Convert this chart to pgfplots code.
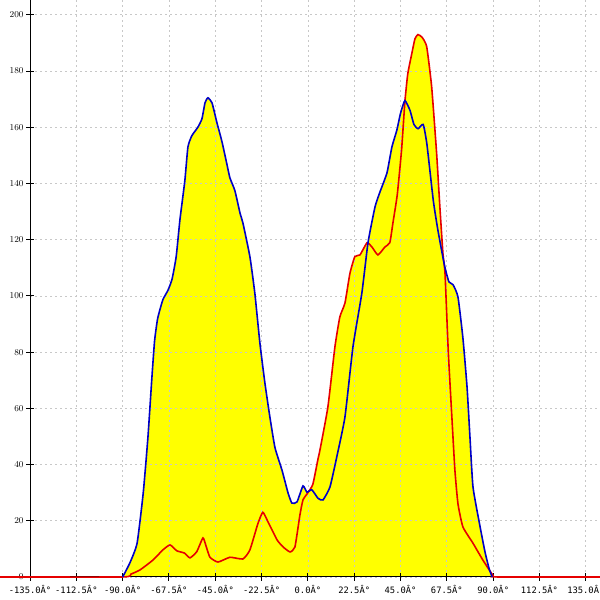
\documentclass[border=0pt]{standalone}
\usepackage{pgfplots}
\pgfplotsset{compat=1.18}
\usepackage{fontspec}
\setmainfont{DejaVu Sans}
\newfontfamily\tickfont{DejaVu Sans Mono}
\definecolor{gridgray}{RGB}{200,200,200}
\definecolor{myblue}{RGB}{0,0,200}
\definecolor{myred}{RGB}{230,0,0}
\definecolor{myyellow}{RGB}{255,255,0}
\begin{document}
\begin{tikzpicture}
\begin{axis}[
  set layers=standard,
  scale only axis, width=570pt, height=577pt,
  xmin=-135, xmax=141.9, ymin=0, ymax=205.3,
  axis lines=left, axis line style={-, black, line width=1pt},
  clip=false,
  xtick={-135,-112.5,...,135},
  xticklabels={-135.0Â°,-112.5Â°,-90.0Â°,-67.5Â°,-45.0Â°,-22.5Â°,0.0Â°,22.5Â°,45.0Â°,67.5Â°,90.0Â°,112.5Â°,135.0Â°},
  ytick={0,20,...,200},
  tick align=center, major tick length=8pt,
  tick style={black, line width=1pt},
  grid=major, major grid style={gridgray, dash pattern=on 2pt off 3pt, line width=0.8pt},
  ticklabel style={font=\tickfont\fontsize{8.8}{10}\selectfont},
  xticklabel style={yshift=-1pt},
  yticklabel style={xshift=1pt},
]
\coordinate (bl) at (axis cs:-149.6,0);
\coordinate (tr) at (axis cs:141.9,205.3);
\pgfplotstableread{
x y
-90 0
-86.5 5
-83 12
-80 30
-77.7 50
-75.8 71
-74.5 84
-73 92
-70.5 98.6
-68 102
-66 106
-64 114
-62.2 127
-59.8 141
-58.3 153
-56.4 157
-53.5 160
-51.5 163
-50 168.7
-48.6 170.5
-46.6 168.7
-44.2 161.6
-41.8 155
-39.4 147
-37.9 142
-35.5 137.5
-33 129.5
-31.6 126
-28.2 114
-25.8 101
-23.3 83
-20.9 69
-18.5 57
-16 46
-12.6 38
-9.7 30
-7.8 26.3
-5.3 26.7
-2.4 32.4
-0.5 30.2
1.9 31
4.9 28
7.3 27.4
10.7 32
14.1 43
18 57
21.9 82
26.2 101
29.2 119
32.6 131.7
35 137
38.4 143.8
40.8 153
43.2 159
45 165
47.1 169.5
49.6 166
51.5 161
53.5 159.5
56 161
57.8 154
60.9 134
63 124
65 116
66.6 110
68.5 105
70.5 104
72.9 99.6
75.3 85
77.3 67.6
78.7 50
80.2 32
83.6 18
86 9
88 3
89.5 0
}\blue
\pgfplotstableread{
x y
-149.6 0
-90 0
-86 1
-81.6 2.5
-75.3 6
-70.5 9.6
-67 11.4
-63.7 9.3
-60 8.5
-57.3 6.8
-54 9
-51 13.9
-49.5 11
-47.6 7
-43.7 5.3
-37.9 7
-31.6 6.4
-28.2 9.6
-24.3 19
-21.9 23
-19.4 19.6
-15 13.2
-12.1 10.7
-8.7 8.9
-6.3 10.7
-3.9 22
-2.4 27.4
0 30
2.4 33
4.9 42
5.8 45
9.7 60.5
13.1 81.8
15.5 92.5
18 97.5
20.4 108
22.8 114
25.3 114.6
28.7 118.9
31.1 117.4
34 114.6
37.4 117.4
39.8 119
41.3 126
43.4 136
45.5 152
47.1 169
48.5 179
50.4 186
52 191.5
53.5 193
55.5 192
57.7 188.7
60.1 174.5
62.5 151
64.1 131.7
65.6 115
66.6 108
68.2 80
70 56
71.4 38
72.9 26
75.3 17.8
80.2 12
85 6
90 0.5
92 0
141.9 0
}\red
\addplot[on layer=axis background, fill=myyellow, draw=none, smooth, tension=0.3] table {\blue} \closedcycle;
\addplot[on layer=axis background, fill=myyellow, draw=none, smooth, tension=0.3] table {\red} \closedcycle;
\addplot[myred, line width=1.6pt, smooth, tension=0.3] table {\red};
\addplot[myblue, line width=1.6pt, smooth, tension=0.3] table {\blue};
\end{axis}
\pgfresetboundingbox
\path[use as bounding box] ([yshift=-23pt]bl) rectangle (tr);
\end{tikzpicture}
\end{document}
